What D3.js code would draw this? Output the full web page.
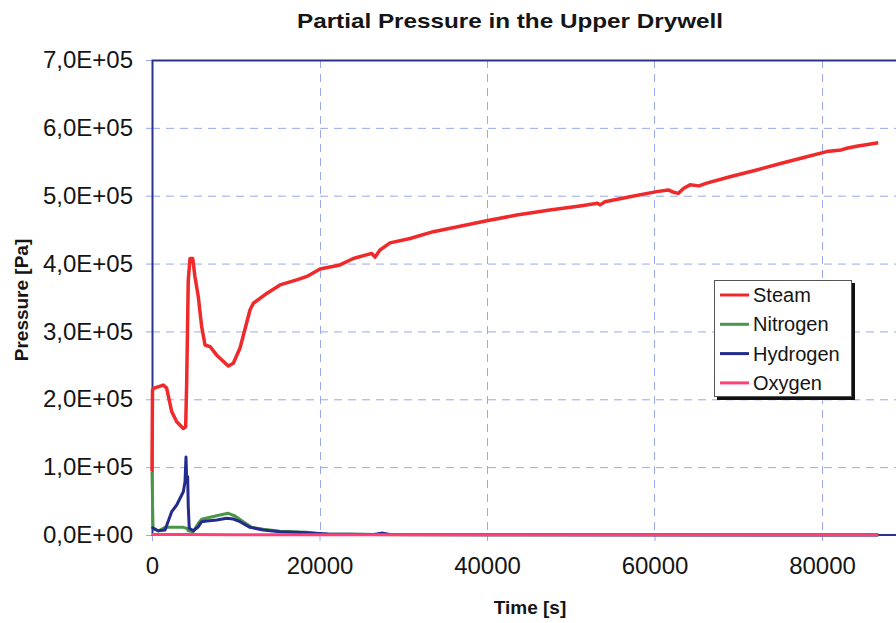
<!DOCTYPE html>
<html>
<head>
<meta charset="utf-8">
<script src="https://cdn.jsdelivr.net/npm/d3@7"></script>
<style>
  body { margin: 0; background: #fff; }
  svg { display: block; font-family: "Liberation Sans", Arial, sans-serif; }
</style>
</head>
<body>
<div id="chart"></div>
<script>
// series: [time s, pressure Pa]
var steam = [
    [0, 94000], [60, 213000], [155, 216000], [1350, 221000], [1750, 216500],
    [2350, 182000], [2950, 167000], [3740, 157000], [4020, 159500], [4140, 224000],
    [4330, 376000], [4540, 407500], [4860, 407500], [5130, 380500], [5530, 351000],
    [5930, 307000], [6330, 280000], [6930, 277500], [7730, 265000], [9110, 249000],
    [9710, 253000], [10510, 275500], [11700, 331500], [12100, 341500], [13700, 356000],
    [15280, 368500], [17280, 376000], [18500, 381000], [20060, 392000], [22450, 398000],
    [24040, 407500], [26230, 415000], [26630, 409500], [27220, 420000], [28420, 430500],
    [30810, 437000], [33590, 447000], [36780, 455000], [39960, 463000], [43550, 471500],
    [47510, 479000], [51100, 485000], [53200, 489000], [53500, 486500], [54090, 491000],
    [57070, 498500], [60260, 506000], [61650, 508500], [62300, 505000], [62840, 503500],
    [63500, 511000], [64240, 516000], [65300, 514500], [66230, 518500], [69010, 528000],
    [72200, 538000], [75050, 547500], [78170, 557500], [80560, 565000], [82300, 567500],
    [82950, 570000], [84140, 573000], [86720, 578000]
];
var nitrogen = [
    [0, 93000], [120, 10300], [750, 5900], [1550, 11300], [3740, 11300],
    [4140, 9900], [4330, 6300], [4930, 4900], [5530, 17200], [5930, 23100],
    [6930, 26100], [8120, 29500], [9110, 32000], [9910, 28000], [10900, 19600],
    [11900, 11300], [13290, 8400], [15280, 5500], [18470, 4000], [20000, 1500],
    [30000, 500], [86720, 200]
];
var hydrogen = [
    [0, 12000], [155, 9900], [750, 6300], [1550, 7400], [2350, 34300],
    [2950, 44200], [3740, 63800], [3940, 78500], [4060, 115000], [4140, 81000],
    [4260, 86000], [4330, 41700], [4450, 9900], [4930, 6300], [5530, 12200],
    [5930, 19600], [6530, 20600], [7730, 22100], [8920, 24600], [9710, 23600],
    [10510, 19600], [11700, 11300], [13290, 7400], [15280, 4900], [18470, 3400],
    [21000, 1500], [26500, 600], [27400, 2800], [28400, 600], [40000, 200], [86720, 0]
];
var oxygen = [
    [0, 600], [4000, 800], [10000, 500], [40000, 300], [86720, 300]
];

var seriesNames = ["Steam", "Nitrogen", "Hydrogen", "Oxygen"];
var seriesColors = ["#f02a2a", "#4a9648", "#232c8c", "#ff3f78"];
var seriesData = [steam, nitrogen, hydrogen, oxygen];

var xTicks = [0, 20000, 40000, 60000, 80000];
var yTicks = [0, 100000, 200000, 300000, 400000, 500000, 600000, 700000];

var width = 896;
var height = 623;
var margin = { left: 152, top: 60, bottom: 88 };

var svg = d3.select("#chart").
    append("svg").
    attr("width", width).
    attr("height", height);

var xScale = d3.scaleLinear().
    domain([0, 90000]).
    range([margin.left, margin.left + 4.5 * 167.5]);

var yScale = d3.scaleLinear().
    domain([0, 700000]).
    range([height - margin.bottom, margin.top]);

function sciLabel(v) {
    if (v == 0) {
        return "0,0E+00";
    }
    var e = Math.floor(Math.log10(v));
    var m = v / Math.pow(10, e);
    return m.toFixed(1).replace(".", ",") + "E+" + (e < 10 ? "0" + e : e);
}

// grid
var grid = svg.append("g").
    attr("stroke", "#9aa8ee").
    attr("stroke-width", 1).
    attr("stroke-dasharray", "8,6");

grid.selectAll("line.h").
    data(yTicks.slice(1, -1)).
    enter().
    append("line").
    attr("x1", xScale(0)).
    attr("x2", width).
    attr("y1", function (d) { return yScale(d) + 0.5; }).
    attr("y2", function (d) { return yScale(d) + 0.5; });

grid.selectAll("line.v").
    data(xTicks.slice(1)).
    enter().
    append("line").
    attr("y1", yScale(700000)).
    attr("y2", yScale(0)).
    attr("x1", function (d) { return Math.round(xScale(d)) + 0.5; }).
    attr("x2", function (d) { return Math.round(xScale(d)) + 0.5; });

// axes
var yAxis = d3.axisLeft(yScale).
    tickValues(yTicks).
    tickSize(6).
    tickPadding(13).
    tickFormat(sciLabel);

var yg = svg.append("g").
    attr("transform", "translate(" + xScale(0) + ",0)").
    call(yAxis);

var xAxis = d3.axisBottom(xScale).
    tickValues(xTicks).
    tickSize(6).
    tickPadding(16).
    tickFormat(d3.format("d"));

var xg = svg.append("g").
    attr("transform", "translate(0," + yScale(0) + ")").
    call(xAxis);

[yg, xg].forEach(function (g) {
    g.select(".domain").remove();
    g.selectAll(".tick line").attr("stroke", "#9aa8ee");
    g.selectAll(".tick text").
        attr("fill", "#151515").
        style("font-size", "24px").
        style("font-family", "'Liberation Sans', Arial, sans-serif");
});

// plot frame: left, top and bottom lines
svg.append("path").
    attr("d", "M" + width + "," + (yScale(700000) + 0.5) +
        "H" + (xScale(0) + 0.5) +
        "V" + yScale(0) +
        "H" + width).
    attr("fill", "none").
    attr("stroke", "#2a3290").
    attr("stroke-width", 2);

// series
var line = d3.line().
    x(function (d) { return xScale(d[0]); }).
    y(function (d) { return yScale(d[1]); });

svg.selectAll("path.series").
    data(seriesData).
    enter().
    append("path").
    attr("class", "series").
    attr("d", line).
    attr("fill", "none").
    attr("stroke", function (d, i) { return seriesColors[i]; }).
    attr("stroke-width", function (d, i) { return i == 0 ? 3.5 : 3; }).
    attr("stroke-linejoin", "round");

// titles
svg.append("text").
    attr("x", 510).
    attr("y", 28).
    attr("text-anchor", "middle").
    attr("textLength", 426).
    attr("lengthAdjust", "spacingAndGlyphs").
    style("font-size", "21px").
    style("font-weight", "bold").
    attr("fill", "#151515").
    text("Partial Pressure in the Upper Drywell");

svg.append("text").
    attr("x", 530).
    attr("y", 614).
    attr("text-anchor", "middle").
    style("font-size", "19px").
    style("font-weight", "bold").
    attr("fill", "#151515").
    text("Time [s]");

svg.append("text").
    attr("transform", "translate(28," + 300 + ") rotate(-90)").
    attr("text-anchor", "middle").
    style("font-size", "19px").
    style("font-weight", "bold").
    attr("fill", "#151515").
    text("Pressure [Pa]");

// legend
var legend = svg.append("g").attr("transform", "translate(714,280)");

legend.append("rect").
    attr("x", 3).
    attr("y", 3).
    attr("width", 138).
    attr("height", 117).
    attr("fill", "#111");

legend.append("rect").
    attr("x", 0.5).
    attr("y", 0.5).
    attr("width", 137).
    attr("height", 116).
    attr("fill", "#fff").
    attr("stroke", "#555").
    attr("stroke-width", 1);

var items = legend.selectAll("g.item").
    data(seriesNames).
    enter().
    append("g").
    attr("class", "item").
    attr("transform", function (d, i) { return "translate(0," + (15 + i * 29.3) + ")"; });

items.append("line").
    attr("x1", 6).
    attr("x2", 35).
    attr("stroke", function (d, i) { return seriesColors[i]; }).
    attr("stroke-width", 3);

items.append("text").
    attr("x", 39).
    attr("y", 7).
    style("font-size", "20px").
    attr("fill", "#151515").
    text(function (d) { return d; });
</script>
</body>
</html>
